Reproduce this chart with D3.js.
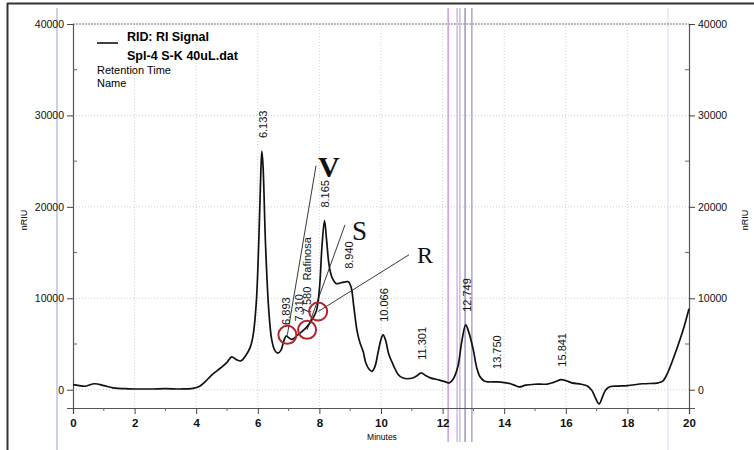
<!DOCTYPE html>
<html>
<head>
<meta charset="utf-8">
<script src="https://cdn.jsdelivr.net/npm/d3@7"></script>
<style>
  body { margin: 0; background: #fff; }
  svg { display: block; font-family: "Liberation Sans", Arial, sans-serif; }
</style>
</head>
<body>
<div id="chart"></div>
<script>
// RI signal trace, minutes vs nRIU
var times = [0, 0.2, 0.4, 0.7, 1.0, 1.3, 1.8, 2.5, 3.0, 3.5, 3.9, 4.1, 4.3, 4.5, 4.8, 5.0, 5.15, 5.3, 5.45, 5.6,
  5.75, 5.85, 5.95, 6.03, 6.1, 6.133, 6.17, 6.25, 6.35, 6.45, 6.55, 6.65, 6.75, 6.85, 6.93, 7.0, 7.1, 7.3, 7.45, 7.6,
  7.75, 7.9, 8.0, 8.08, 8.165, 8.23, 8.32, 8.42, 8.55, 8.7, 8.85, 8.94, 9.03, 9.12, 9.22, 9.32, 9.42, 9.5, 9.6, 9.7,
  9.8, 9.9, 10.0, 10.066, 10.15, 10.25, 10.4, 10.55, 10.7, 11.0, 11.2, 11.301, 11.45, 11.6, 11.9, 12.1, 12.22, 12.35, 12.5, 12.62,
  12.749, 12.85, 13.0, 13.1, 13.2, 13.35, 13.5, 13.75, 14.0, 14.2, 14.4, 14.5, 14.7, 15.0, 15.4, 15.6, 15.841, 16.0, 16.2, 16.5,
  16.7, 16.85, 16.95, 17.08, 17.2, 17.3, 17.45, 17.7, 18.0, 18.5, 19.0, 19.15, 19.3, 19.5, 19.7, 19.85, 20.0];
var signal = [550, 450, 380, 650, 450, 200, 100, 80, 120, 80, 150, 350, 900, 1600, 2400, 3000, 3600, 3300, 3150, 3700,
  4600, 6000, 9500, 16000, 24000, 26100, 24500, 16000, 9000, 5500, 4300, 4000, 4300, 5400, 5900, 5700, 5500, 6000, 6400, 6900,
  7600, 8600, 11000, 15500, 18500, 16500, 13500, 12200, 11600, 11700, 11800, 11800, 11200, 9000, 6500, 5100, 4200, 3000, 2300, 2000,
  2500, 4000, 5500, 6000, 5400, 3900, 2700, 1700, 1300, 1250, 1600, 1850, 1550, 1300, 1050, 850, 750, 1200, 2600, 5200,
  7100, 6300, 4300, 2500, 1500, 950, 850, 850, 780, 650, 400, 300, 500, 600, 620, 800, 1100, 1000, 750, 600,
  400, -100, -800, -1550, -700, 0, 350, 400, 450, 650, 750, 950, 1800, 3500, 5400, 7000, 8850];

var peakTimes = [6.133, 6.893, 7.310, 7.580, 8.165, 8.940, 10.066, 11.301, 12.749, 13.750, 15.841];
var peakNames = ["6.133", "6.893", "7.310", "7.580  Rafinosa", "8.165", "8.940", "10.066", "11.301", "12.749", "13.750", "15.841"];

var xTicks = [0, 2, 4, 6, 8, 10, 12, 14, 16, 18, 20];
var yTicks = [0, 10000, 20000, 30000, 40000];

// hand marks on the scan: circles, letters, leader lines
var markTimes = [6.96, 7.60, 7.96];
var markValues = [6000, 6550, 8550];
var letters = ["V", "S", "R"];
var letterTimes = [8.31, 9.30, 11.43];
var letterValues = [23300, 16400, 13880];
var leaderTimes = [7.89, 8.83, 10.91];
var leaderValues = [24500, 18030, 14760];

// event marker lines around 12-13 min
var eventTimes = [12.18, 12.47, 12.56, 12.73, 12.95];
var eventColors = ["#c89be0", "#d3b8ea", "#c6c0dc", "#9a98bc", "#aaa8cc"];

var W = 754, H = 450;
var margin = {top: 24, right: 65, bottom: 42, left: 73};
var width = W - margin.left - margin.right;
var height = H - margin.top - margin.bottom;

var svg = d3.select("#chart").append("svg")
  .attr("width", W)
  .attr("height", H);

// scan border
svg.append("line").attr("x1", 7).attr("x2", W).attr("y1", 3.5).attr("y2", 3.5)
  .attr("stroke", "#333").attr("stroke-width", 2);
svg.append("line").attr("x1", 7.5).attr("x2", 7.5).attr("y1", 3).attr("y2", H)
  .attr("stroke", "#333").attr("stroke-width", 2);
svg.append("line").attr("x1", 57).attr("x2", 57).attr("y1", 8).attr("y2", H)
  .attr("stroke", "#b9c3df").attr("stroke-width", 1.5);
svg.append("line").attr("x1", 668).attr("x2", 668).attr("y1", 8).attr("y2", H)
  .attr("stroke", "#dde3f0").attr("stroke-width", 1.2);

var g = svg.append("g")
  .attr("transform", "translate(" + margin.left + "," + margin.top + ")");

var x = d3.scaleLinear().domain([0, 20]).range([0, width]);
var y = d3.scaleLinear().domain([-2000, 40000]).range([height, 0]);

// grid
g.selectAll(".vgrid").data(xTicks.slice(1, -1)).enter().append("line")
  .attr("x1", d => x(d)).attr("x2", d => x(d))
  .attr("y1", 0).attr("y2", height)
  .attr("stroke", "#c9d0e0").attr("stroke-dasharray", "1,2");
g.selectAll(".hgrid").data(yTicks.slice(0, -1)).enter().append("line")
  .attr("x1", 0).attr("x2", width)
  .attr("y1", d => y(d)).attr("y2", d => y(d))
  .attr("stroke", "#cccccc").attr("stroke-dasharray", "1,2");
g.append("line").attr("x1", 0).attr("x2", width)
  .attr("y1", y(40000)).attr("y2", y(40000))
  .attr("stroke", "#777").attr("stroke-dasharray", "2,1");

// event lines (extend beyond the plot like in the scan)
g.selectAll(".event").data(eventTimes).enter().append("line")
  .attr("x1", d => x(d)).attr("x2", d => x(d))
  .attr("y1", 8 - margin.top).attr("y2", H - 8 - margin.top)
  .attr("stroke", (d, i) => eventColors[i]).attr("stroke-width", 1.5);

// axes
var axisL = g.append("g").call(d3.axisLeft(y).tickValues(yTicks).tickSize(6).tickFormat(d3.format("d")));
var axisR = g.append("g").attr("transform", "translate(" + width + ",0)")
  .call(d3.axisRight(y).tickValues(yTicks).tickSize(6).tickFormat(d3.format("d")));
var axisB = g.append("g").attr("transform", "translate(0," + height + ")")
  .call(d3.axisBottom(x).tickValues(xTicks).tickSize(6).tickFormat(d3.format("d")));

[axisL, axisR, axisB].forEach(function(a) {
  a.select(".domain").attr("stroke", "#555").attr("stroke-width", 1.2);
  a.selectAll(".tick line").attr("stroke", "#444");
  a.selectAll("text").attr("fill", "#111").style("font-family", "'Liberation Sans', Arial, sans-serif");
});
axisL.selectAll("text").style("font-size", "10.5px");
axisR.selectAll("text").style("font-size", "10.5px");
axisB.selectAll("text").style("font-size", "11.5px").style("font-weight", "bold").attr("dy", "0.85em");

// minor ticks
var yMinor = [5000, 15000, 25000, 35000];
g.selectAll(".ymL").data(yMinor).enter().append("line")
  .attr("x1", 0).attr("x2", 4).attr("y1", d => y(d)).attr("y2", d => y(d)).attr("stroke", "#666");
g.selectAll(".ymR").data(yMinor).enter().append("line")
  .attr("x1", width - 4).attr("x2", width).attr("y1", d => y(d)).attr("y2", d => y(d)).attr("stroke", "#666");
g.selectAll(".xm").data(d3.range(1, 20, 2)).enter().append("line")
  .attr("x1", d => x(d)).attr("x2", d => x(d)).attr("y1", height).attr("y2", height + 3).attr("stroke", "#666");

// axis titles
g.append("text").attr("x", width / 2 + 1).attr("y", height + 32)
  .attr("text-anchor", "middle").style("font-size", "8.5px").text("Minutes");
svg.append("text").attr("transform", "translate(27,220) rotate(-90)")
  .attr("text-anchor", "middle").style("font-size", "9px").text("nRIU");
svg.append("text").attr("transform", "translate(748,220) rotate(-90)")
  .attr("text-anchor", "middle").style("font-size", "9px").text("nRIU");

// trace
var data = times.map((t, i) => ({t: t, v: signal[i]}));
var line = d3.line()
  .x(d => x(d.t))
  .y(d => y(d.v))
  .curve(d3.curveCatmullRom.alpha(0.5));
g.append("path").datum(data)
  .attr("fill", "none").attr("stroke", "#111").attr("stroke-width", 1.7)
  .attr("stroke-linejoin", "round")
  .attr("d", line);

// value of the trace at a time (linear between read points)
var bis = d3.bisector(d => d.t).left;
function valueAt(t) {
  var i = Math.max(1, Math.min(data.length - 1, bis(data, t)));
  var a = data[i - 1], b = data[i];
  return a.v + (b.v - a.v) * (t - a.t) / (b.t - a.t);
}

// peak labels
g.selectAll(".peak").data(peakTimes).enter().append("text")
  .attr("transform", d => "translate(" + (x(d) + 1) + "," + (y(valueAt(d)) - 13) + ") rotate(-90)")
  .attr("dy", "0.35em")
  .style("font-size", "11px")
  .attr("fill", "#111")
  .attr("xml:space", "preserve")
  .text((d, i) => peakNames[i]);

// leader lines, circles, letters
g.selectAll(".leader").data(markTimes).enter().append("line")
  .attr("x1", (d, i) => x(leaderTimes[i])).attr("y1", (d, i) => y(leaderValues[i]))
  .attr("x2", d => x(d)).attr("y2", (d, i) => y(markValues[i]))
  .attr("stroke", "#222").attr("stroke-width", 0.9);
g.selectAll(".mark").data(markTimes).enter().append("circle")
  .attr("cx", d => x(d)).attr("cy", (d, i) => y(markValues[i]))
  .attr("r", 9)
  .attr("fill", "none").attr("stroke", "#b3242a").attr("stroke-width", 2);
var letterSizes = [30, 27, 24];
g.selectAll(".letter").data(letters).enter().append("text")
  .attr("x", (d, i) => x(letterTimes[i])).attr("y", (d, i) => y(letterValues[i]))
  .attr("text-anchor", "middle")
  .style("font-family", "'Liberation Serif', 'Times New Roman', serif")
  .style("font-size", (d, i) => letterSizes[i] + "px")
  .style("font-weight", (d, i) => i === 0 ? "bold" : "normal")
  .attr("fill", "#111")
  .text(d => d);

// legend
svg.append("line").attr("x1", 97).attr("x2", 118).attr("y1", 43).attr("y2", 43)
  .attr("stroke", "#111").attr("stroke-width", 1.6);
svg.append("text").attr("x", 127).attr("y", 41).style("font-size", "12.5px").style("font-weight", "bold")
  .attr("textLength", 82).text("RID: RI Signal");
svg.append("text").attr("x", 127).attr("y", 60).style("font-size", "12.5px").style("font-weight", "bold")
  .attr("textLength", 111).text("Spl-4 S-K 40uL.dat");
svg.append("text").attr("x", 97).attr("y", 74).style("font-size", "11px").text("Retention Time");
svg.append("text").attr("x", 97).attr("y", 87).style("font-size", "11px").text("Name");
</script>
</body>
</html>
